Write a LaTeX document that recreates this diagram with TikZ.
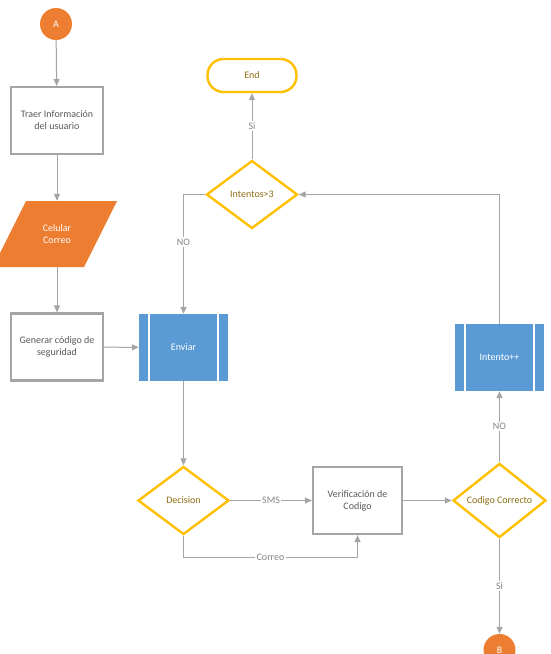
\documentclass[tikz,border=0pt]{standalone}
\usepackage{fontspec}
\setmainfont{Carlito}
\usepackage{xcolor}
\usetikzlibrary{arrows.meta,shapes.geometric}

\definecolor{naranja}{RGB}{237,125,49}
\definecolor{azul}{RGB}{91,155,213}
\definecolor{amarillo}{RGB}{255,192,0}
\definecolor{oro}{RGB}{140,110,20}
\definecolor{gris}{RGB}{165,165,165}
\definecolor{texto}{RGB}{89,89,89}

\begin{document}
\begin{tikzpicture}[
  x=1pt, y=-1pt,
  font=\fontsize{10}{12}\selectfont,
  >={Triangle[length=7pt,width=6pt]},
  conector/.style={circle, fill=naranja, text=white, minimum size=32pt,
                inner sep=0pt},
  proceso/.style={draw=gris, line width=2.2pt, fill=white, text=texto,
                align=center, minimum width=92pt, minimum height=67pt},
  datos/.style={text=white, align=center, minimum width=60pt,
                minimum height=66pt, inner sep=0pt},
  subproc/.style={rectangle, fill=azul, text=white, minimum width=89pt,
                minimum height=67pt,
                path picture={
                  \draw[white, line width=1.5pt]
                    ([xshift=10pt]path picture bounding box.south west)
                    -- ([xshift=10pt]path picture bounding box.north west);
                  \draw[white, line width=1.5pt]
                    ([xshift=-10pt]path picture bounding box.south east)
                    -- ([xshift=-10pt]path picture bounding box.north east);}},
  decision/.style={diamond, draw=amarillo, line width=2.4pt, fill=white,
                text=oro, inner sep=0pt, minimum width=91pt,
                minimum height=68pt},
  terminal/.style={draw=amarillo, line width=2.4pt, rounded corners=16pt,
                fill=white, text=oro, minimum width=89pt, minimum height=33pt},
  flow/.style={->, line width=1pt, gris},
  lbl/.style={fill=white, text=gris!80!black, inner sep=1.5pt}]

\useasboundingbox (0,0) rectangle (551,654);

%% ---- columna izquierda ----
\node[conector] (A) at (56,24) {A};
\node[proceso] (traer) at (57,120.5) {Traer Información\\ del usuario};
% paralelogramo de datos: se rellena a mano, el texto va encima
\fill[naranja] (26,201) -- (117,201) -- (84,267) -- (-7,267) -- cycle;
\node[datos] (celular) at (57,234) {Celular\\ Correo};
\node[proceso] (generar) at (57,347) {Generar código de\\ seguridad};

%% ---- columna central ----
\node[terminal] (fin) at (252,75.5) {End};
\node[decision] (intentos) at (252,194.5) {Intentos>3};
\node[subproc] (enviar) at (183.5,347.5) {Enviar};
\node[decision] (dec) at (183.5,500.5) {Decision};
\node[proceso, minimum width=89pt] (verif) at (357.5,500.5)
  {Verificación de\\ Codigo};

%% ---- columna derecha ----
\node[subproc] (intento) at (499.5,357.5) {Intento++};
\node[decision, minimum width=93pt] (codigo) at (499.5,500.5)
  {Codigo Correcto};
\node[conector] (B) at (499.5,650) {B};

%% ---- flujo ----
\draw[flow] (A) -- (traer);
\draw[flow] (traer) -- (celular);
\draw[flow] (celular) -- (generar);
\draw[flow] (generar) -- (enviar);
\draw[flow] (intentos.west) -| (enviar.north) node[lbl, pos=0.70] {NO};
\draw[flow] (enviar) -- (dec);
\draw[flow] (dec) -- (verif) node[lbl, midway] {SMS};
\draw[flow] (dec.south) -- ++(0,22) -| (verif.south)
  node[lbl, pos=0.25] {Correo};
\draw[flow] (verif) -- (codigo);
\draw[flow] (codigo) -- (intento) node[lbl, midway] {NO};
\draw[flow] (intento.north) |- (intentos.east);
\draw[flow] (intentos) -- (fin) node[lbl, midway] {Si};
\draw[flow] (codigo) -- (B) node[lbl, midway] {Si};
\end{tikzpicture}
\end{document}
